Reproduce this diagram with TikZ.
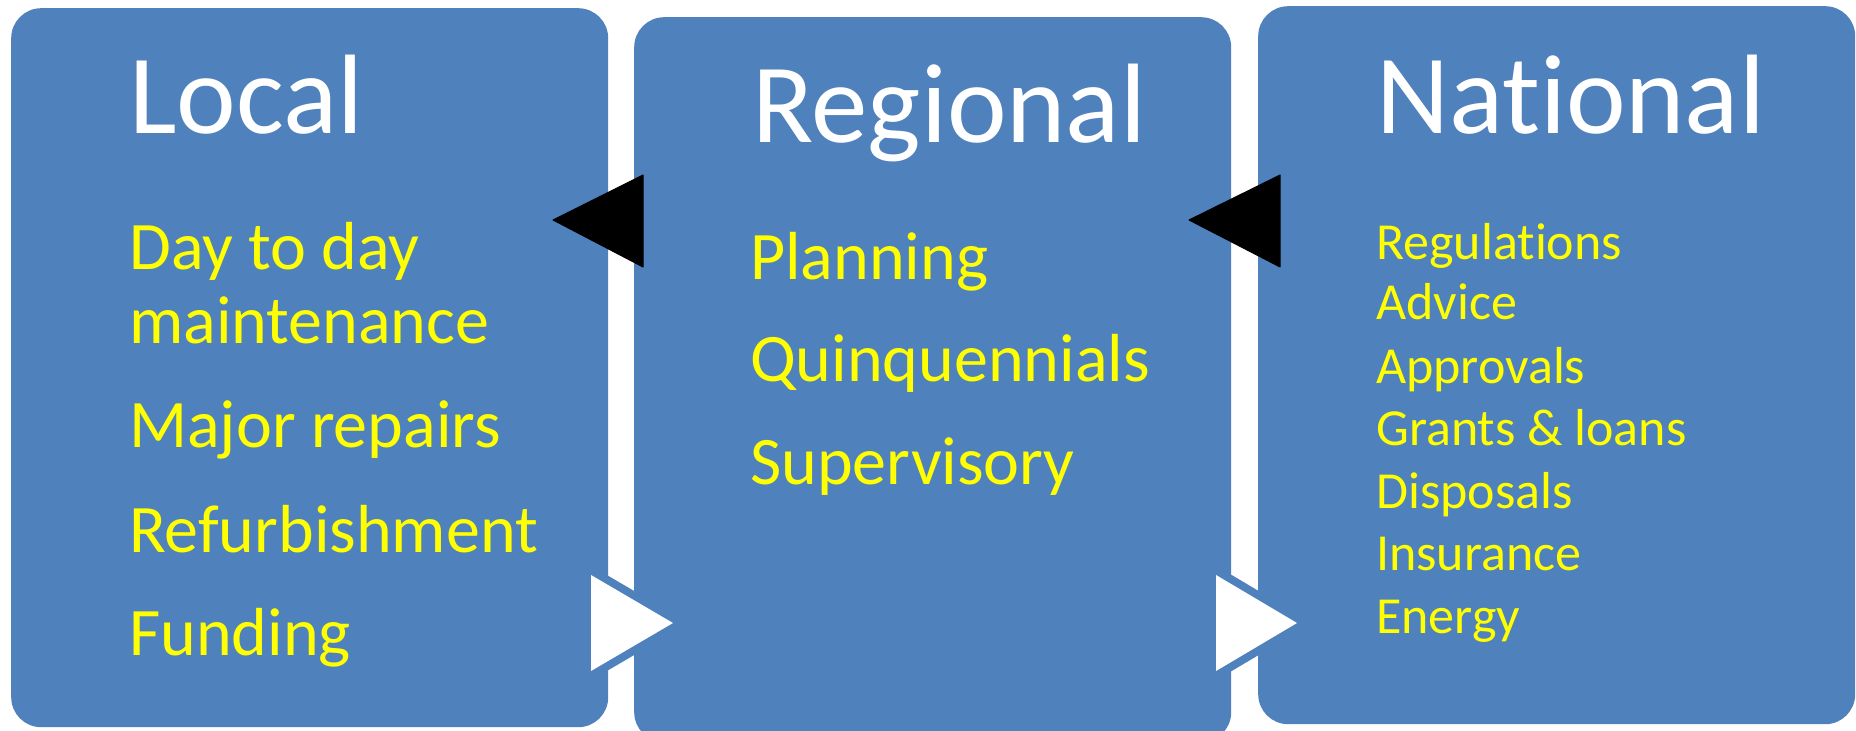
\documentclass[tikz,border=0pt]{standalone}
\usepackage{fontspec}
\setmainfont{Carlito}[Ligatures=NoCommon]
\definecolor{boxblue}{HTML}{4F81BD}
\definecolor{itemyellow}{HTML}{FFFF00}
\tikzset{
  panel/.style={fill=boxblue, draw=none, rounded corners=30pt, anchor=north west,
    inner sep=0pt, minimum width=597pt},
  heading/.style={anchor=base west, inner sep=0pt, text=white,
    font=\fontsize{113}{113}\selectfont},
  bigitem/.style={anchor=base west, inner sep=0pt, text=itemyellow,
    font=\fontsize{68}{68}\selectfont},
  smallitem/.style={anchor=base west, inner sep=0pt, text=itemyellow,
    font=\fontsize{52}{52}\selectfont},
  backarrow/.style={fill=black, draw=black, line width=1pt, line join=round},
  fwdband/.style={fill=white, draw=boxblue, line width=16pt, line join=miter},
  fwdfill/.style={fill=white, draw=none},
}
\begin{document}
\begin{tikzpicture}[x=1pt, y=-1pt]
\clip (0,0) rectangle (1856,731);
\fill[white] (0,0) rectangle (1856,731);
% panels
\node[panel, minimum height=719pt] (local) at (11,8) {};
\node[panel, minimum height=725pt] (regional) at (634,17) {};
\node[panel, minimum height=718pt] (national) at (1258,6) {};
% headings
\node[heading] (hlocal) at (129,133) {Local};
\node[heading] (hregional) at (752,142) {Regional};
\node[heading] (hnational) at (1376,133) {National};
% local items
\node[bigitem] (l1) at (129,269) {Day to day};
\node[bigitem] (l2) at (129,343) {maintenance};
\node[bigitem] (l3) at (129,447) {Major repairs};
\node[bigitem] (l4) at (129,552) {Refurbishment};
\node[bigitem] (l5) at (129,655) {Funding};
% regional items
\node[bigitem] (r1) at (750,279) {Planning};
\node[bigitem] (r2) at (750,381) {Quinquennials};
\node[bigitem] (r3) at (750,484) {Supervisory};
% national items
\node[smallitem] (n1) at (1376,259) {Regulations};
\node[smallitem] (n2) at (1376,319) {Advice};
\node[smallitem] (n3) at (1376,383) {Approvals};
\node[smallitem] (n4) at (1376,445) {Grants \& loans};
\node[smallitem] (n5) at (1376,508) {Disposals};
\node[smallitem] (n6) at (1376,570) {Insurance};
\node[smallitem] (n7) at (1376,633) {Energy};
% backward (black) arrows
\draw[backarrow] (553,220) -- (643,175) -- (643,267) -- cycle;
\draw[backarrow] (1189,220) -- (1280,175) -- (1280,267) -- cycle;
% forward (white) arrows
\draw[fwdband] (591,575) -- (673,623) -- (591,671) -- cycle;
\fill[fwdfill] (591,575) -- (673,623) -- (591,671) -- cycle;
\draw[fwdband] (1216,575) -- (1297,623) -- (1216,671) -- cycle;
\fill[fwdfill] (1216,575) -- (1297,623) -- (1216,671) -- cycle;
\end{tikzpicture}
\end{document}
